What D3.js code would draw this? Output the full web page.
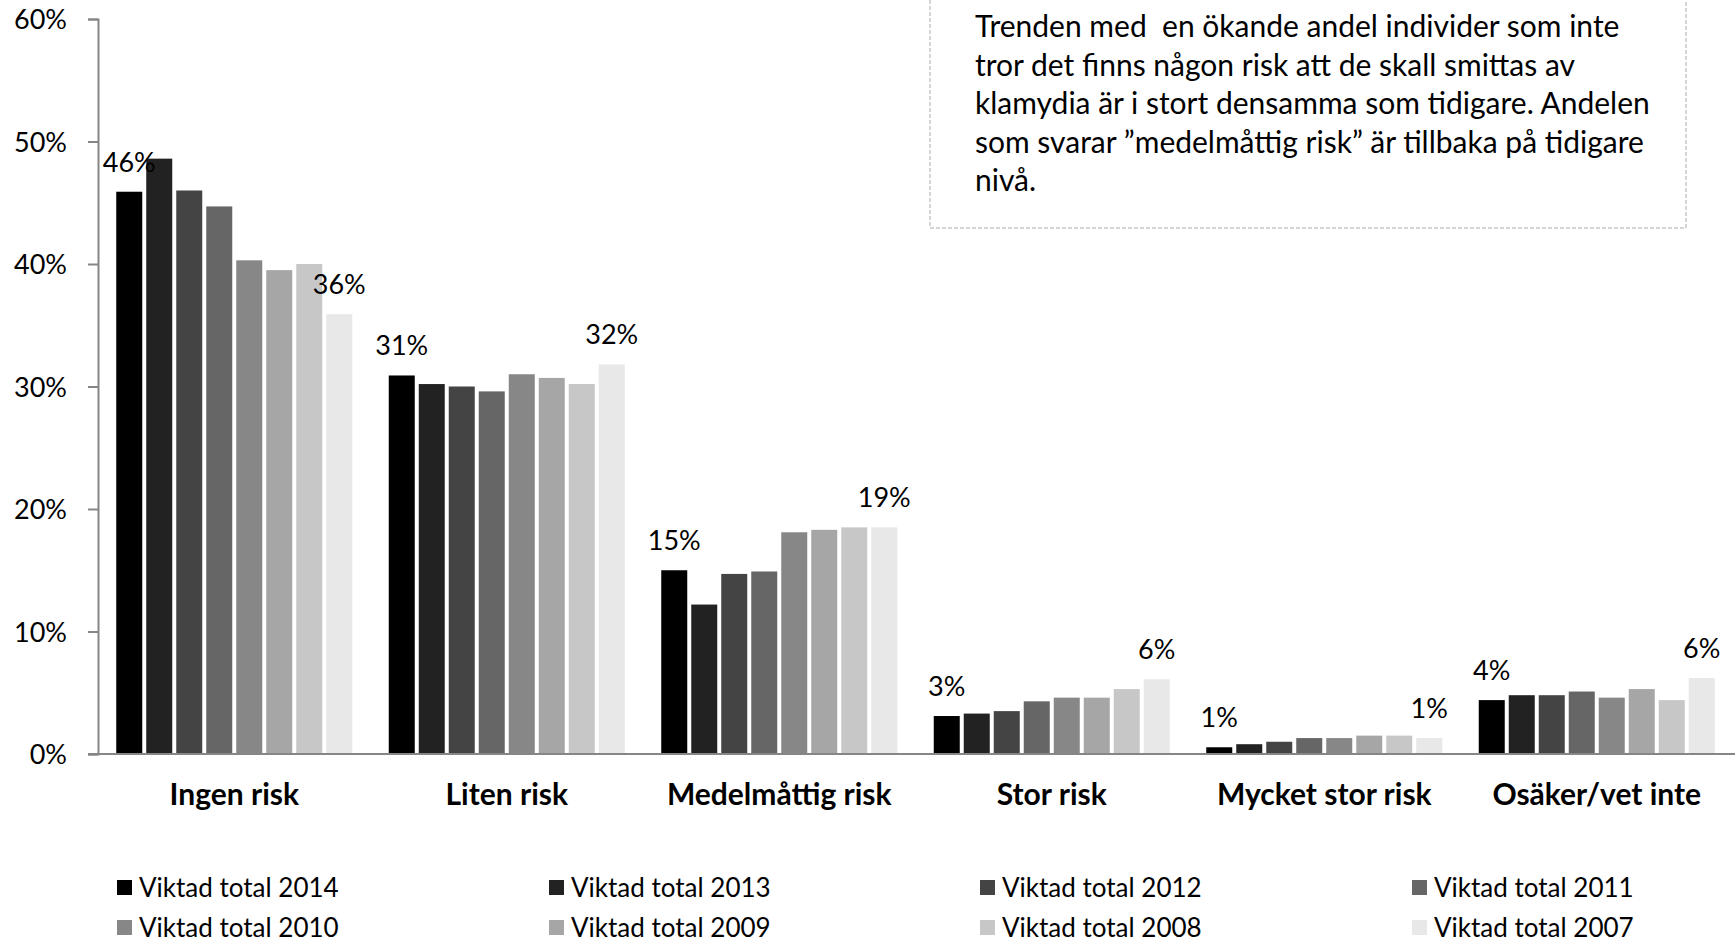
<!DOCTYPE html>
<html>
<head>
<meta charset="utf-8">
<script src="https://cdn.jsdelivr.net/npm/d3@7"></script>
<style>
  html, body { margin: 0; padding: 0; background: #fff; }
  svg { display: block; }
  text { font-family: Lato, "Open Sans", "Liberation Sans", sans-serif; fill: #000; }
</style>
</head>
<body>
<svg id="chart" width="1735" height="945"></svg>
<script>
// ---------- data ----------
const categories = ["Ingen risk", "Liten risk", "Medelmåttig risk", "Stor risk", "Mycket stor risk", "Osäker/vet inte"];
const seriesNames = ["Viktad total 2014", "Viktad total 2013", "Viktad total 2012", "Viktad total 2011",
                     "Viktad total 2010", "Viktad total 2009", "Viktad total 2008", "Viktad total 2007"];
const seriesColors = ["#000000", "#222222", "#444444", "#666666", "#878787", "#a6a6a6", "#c7c7c7", "#e8e8e8"];
// values in percent, one array per series (order follows categories)
const v2014 = [45.9, 30.9, 15.0, 3.1, 0.55, 4.4];
const v2013 = [48.6, 30.2, 12.2, 3.3, 0.8, 4.8];
const v2012 = [46.0, 30.0, 14.7, 3.5, 1.0, 4.8];
const v2011 = [44.7, 29.6, 14.9, 4.3, 1.3, 5.1];
const v2010 = [40.3, 31.0, 18.1, 4.6, 1.3, 4.6];
const v2009 = [39.5, 30.7, 18.3, 4.6, 1.5, 5.3];
const v2008 = [40.0, 30.2, 18.5, 5.3, 1.5, 4.4];
const v2007 = [35.9, 31.8, 18.5, 6.1, 1.3, 6.2];
const seriesValues = [v2014, v2013, v2012, v2011, v2010, v2009, v2008, v2007];
const labelledSeries = ["Viktad total 2014", "Viktad total 2007"];
const yTicks = [0, 10, 20, 30, 40, 50, 60];
const noteLines = [
  "Trenden med  en ökande andel individer som inte",
  "tror det finns någon risk att de skall smittas av",
  "klamydia är i stort densamma som tidigare. Andelen",
  "som svarar ”medelmåttig risk” är tillbaka på tidigare",
  "nivå."
];

// ---------- layout ----------
const svg = d3.select("#chart");
const plot = { left: 98, right: 1733, top: 19, bottom: 754 };
const axisColor = "#868686";

const y = d3.scaleLinear().domain([0, 60]).range([plot.bottom, plot.top]);
const x0 = d3.scaleBand().domain(categories).range([plot.left, plot.right]).padding(0);
const x1 = d3.scaleBand().domain(seriesNames)
  .range([18.25, x0.bandwidth() - 18.25]).paddingInner(4 / 30).paddingOuter(0);

// rows for drawing
const rows = [];
seriesNames.forEach((s, si) => {
  categories.forEach((c, ci) => rows.push({ series: s, cat: c, value: seriesValues[si][ci], color: seriesColors[si] }));
});

// bars
svg.append("g").selectAll("rect").data(rows).join("rect")
  .attr("x", d => x0(d.cat) + x1(d.series))
  .attr("y", d => y(d.value))
  .attr("width", x1.bandwidth())
  .attr("height", d => y(0) - y(d.value))
  .attr("fill", d => d.color);

// data labels
svg.append("g").selectAll("text").data(rows.filter(d => labelledSeries.includes(d.series))).join("text")
  .attr("x", d => x0(d.cat) + x1(d.series) + x1.bandwidth() / 2)
  .attr("y", d => y(d.value) - 20)
  .attr("text-anchor", "middle")
  .style("font-size", "27px")
  .text(d => Math.round(d.value) + "%");

// y axis
const yAxis = d3.axisLeft(y).tickValues(yTicks).tickSize(10).tickPadding(20).tickFormat(d => d + "%");
const gy = svg.append("g").attr("transform", `translate(${plot.left},0)`).call(yAxis);
gy.select(".domain").attr("stroke", axisColor).attr("stroke-width", 2);
gy.selectAll(".tick line").attr("stroke", axisColor).attr("stroke-width", 2);
gy.selectAll(".tick text").style("font-size", "27px").attr("fill", "#000")
  .style("font-family", "Lato, 'Open Sans', sans-serif").attr("dy", "0.36em").attr("x", -31);

// x axis baseline
const xAxis = d3.axisBottom(x0).tickSize(0).tickPadding(30);
const gx = svg.append("g").attr("transform", `translate(0,${plot.bottom})`).call(xAxis);
gx.select(".domain").attr("stroke", axisColor).attr("stroke-width", 2)
  .attr("d", `M${plot.left - 10},0H1735`);
gx.selectAll(".tick text").style("font-size", "30px").style("font-weight", "bold")
  .style("font-family", "Lato, 'Open Sans', sans-serif").attr("fill", "#000");

// legend
const legendCols = [117, 549, 980, 1412];
const legendRows = [888, 928];
const lg = svg.append("g").selectAll("g").data(seriesNames).join("g")
  .attr("transform", (d, i) => `translate(${legendCols[i % 4]},${legendRows[Math.floor(i / 4)]})`);
lg.append("rect").attr("x", 0).attr("y", -8).attr("width", 15).attr("height", 15)
  .attr("fill", (d, i) => seriesColors[i]);
lg.append("text").attr("x", 22).attr("y", 0).attr("dy", "0.36em")
  .style("font-size", "26px").text(d => d);

// note box
svg.append("rect").attr("x", 930).attr("y", -10).attr("width", 756).attr("height", 238)
  .attr("fill", "#fff").attr("stroke", "#c8c8c8").attr("stroke-width", 1.5)
  .attr("stroke-dasharray", "4,2");
svg.append("g").selectAll("text").data(noteLines).join("text")
  .attr("x", 975).attr("y", (d, i) => 37 + i * 38.5)
  .attr("xml:space", "preserve").style("white-space", "pre")
  .style("font-size", "30px").text(d => d);
</script>
</body>
</html>
